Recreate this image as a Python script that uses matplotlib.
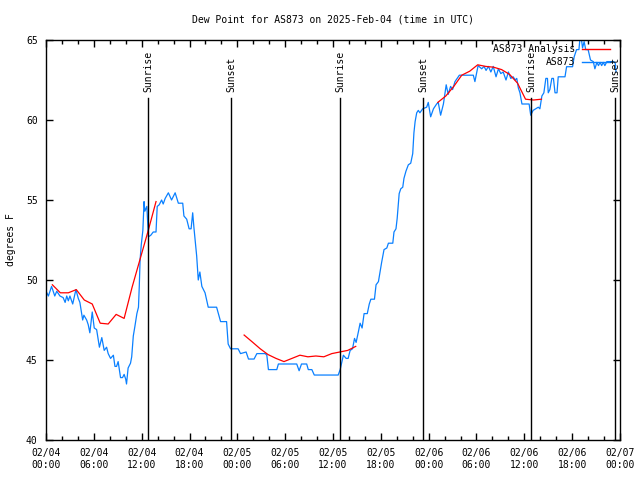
import numpy as np
import matplotlib
matplotlib.use('Agg')
import matplotlib.pyplot as plt
from matplotlib import transforms

# observed dew point (hours since 02/04 00:00 UTC, degrees F)
obs_hours = [0.1, 0.3, 0.7, 1.1, 1.35, 1.75, 2.15, 2.4, 2.6, 2.8, 3.0, 3.35, 3.75, 4.05,
             4.25, 4.6, 4.75, 5.1, 5.3, 5.5, 5.8, 6.05, 6.35, 6.7, 7.0, 7.3, 7.6, 7.8,
             8.1, 8.45, 8.65, 8.85, 9.05, 9.35, 9.6, 9.8, 10.0, 10.1, 10.3, 10.6, 10.75,
             10.95, 11.15, 11.4, 11.6, 11.7, 11.8, 11.95, 12.15, 12.3, 12.4, 12.65, 12.85,
             13.15, 13.45, 13.8, 13.95, 14.2, 14.5, 14.7, 14.95, 15.35, 15.75, 16.2, 16.6,
             17.15, 17.3, 17.65, 17.95, 18.2, 18.4, 18.55, 18.9, 19.1, 19.3, 19.55, 19.95,
             20.35, 21.4, 21.9, 22.65, 22.85, 23.15, 24.1, 24.4, 25.1, 25.4, 26.1, 26.45,
             27.5, 27.7, 27.9, 28.95, 29.15, 31.45, 31.75, 32.05, 32.7, 32.9, 33.35, 33.65,
             36.65, 36.9, 37.3, 37.65, 37.9, 38.15, 38.45, 38.7, 38.9, 39.2, 39.4, 39.65,
             39.9, 40.3, 40.55, 40.75, 41.2, 41.4, 41.7, 41.9, 42.1, 42.4, 42.75, 42.95,
             43.5, 43.65, 43.9, 44.05, 44.3, 44.5, 44.75, 44.9, 45.15, 45.45, 45.75, 46.0,
             46.15, 46.3, 46.5, 46.7, 46.9, 47.25, 47.75, 47.95, 48.25, 48.6, 49.0, 49.2,
             49.5, 49.85, 50.2, 50.45, 50.75, 51.0, 51.3, 51.85, 53.6, 53.8, 54.0, 54.2,
             54.65, 54.95, 55.2, 55.5, 55.8, 56.1, 56.45, 56.75, 57.05, 57.35, 57.7, 58.0,
             58.3, 58.6, 58.85, 59.05, 59.25, 59.45, 59.7, 60.6, 60.8, 61.1, 61.75, 61.95,
             62.2, 62.45, 62.7, 62.9, 63.0, 63.2, 63.45, 63.65, 63.85, 64.1, 64.25, 65.1,
             65.3, 66.05, 66.25, 66.55, 66.85, 67.05, 67.3, 67.5, 67.7, 68.0, 68.3, 68.65,
             68.85, 69.1, 69.3, 69.5, 69.7, 69.9, 70.1, 70.35, 71.2, 71.4, 71.5]
obs_vals = [49.2, 49.0, 49.6, 49.0, 49.3, 49.0, 48.9, 48.6, 49.0, 48.7, 49.0, 48.5, 49.4, 48.85,
            48.6, 47.5, 47.8, 47.5, 47.2, 46.7, 48.0, 47.0, 46.9, 45.8, 46.4, 45.6, 45.8, 45.4,
            45.1, 45.3, 44.6, 44.6, 44.9, 43.9, 43.9, 44.1, 43.8, 43.5, 44.5, 44.8, 45.2,
            46.5, 47.1, 47.9, 48.3, 49.6, 51.25, 52.2, 53.1, 54.9, 54.3, 54.6, 52.7,
            52.8, 53.0, 53.0, 54.6, 54.7, 55.0, 54.75, 55.1, 55.45, 55.0, 55.45, 54.8,
            54.8, 54.0, 53.8, 53.2, 53.2, 54.2, 53.3, 51.5, 50.0, 50.5, 49.6, 49.2,
            48.3, 48.3, 47.4, 47.4, 46.0, 45.7, 45.7, 45.4, 45.5, 45.06, 45.06, 45.4,
            45.4, 45.3, 44.4, 44.4, 44.75, 44.75, 44.33, 44.75, 44.75, 44.4, 44.4, 44.06,
            44.06, 44.4, 45.3, 45.1, 45.1, 45.6, 45.7, 46.35, 46.1, 46.8, 47.3, 47.0,
            47.9, 47.9, 48.5, 48.8, 48.8, 49.7, 49.9, 50.5, 51.1, 51.9, 52.0, 52.3,
            52.3, 53.0, 53.2, 53.85, 55.4, 55.7, 55.8, 56.35, 56.8, 57.2, 57.3, 57.9,
            59.2, 59.9, 60.45, 60.6, 60.45, 60.7, 60.8, 61.1, 60.2, 60.7, 61.0, 61.1,
            60.3, 61.0, 62.2, 61.6, 62.1, 61.9, 62.4, 62.8, 62.8, 62.4, 62.9, 63.4,
            63.2, 63.35, 63.1, 63.35, 63.0, 63.35, 62.7, 63.2, 62.9, 63.0, 62.5, 63.0,
            62.6, 62.7, 62.5, 62.6, 62.0, 61.7, 61.0, 61.0, 60.3, 60.6, 60.8, 60.7,
            61.5, 61.7, 62.6, 62.6, 61.7, 61.9, 62.6, 62.6, 61.7, 61.7, 62.7, 62.7,
            63.33, 63.33, 63.95, 64.4, 64.4, 65.5, 64.5, 64.9, 64.4, 64.4, 63.75, 63.65,
            63.2, 63.6, 63.4, 63.6, 63.4, 63.6, 63.4, 63.65, 63.65, 63.55, 63.0]

# hourly analysis, three pieces (gaps in between)
ana1_hours = [0.8, 1.8, 2.8, 3.8, 4.8, 5.8, 6.8, 7.8, 8.8, 9.8, 10.8, 11.8, 12.8, 13.8]
ana1_vals = [49.7, 49.2, 49.2, 49.4, 48.75, 48.5, 47.3, 47.25, 47.85, 47.6, 49.55, 51.3, 53.05, 54.9]
ana2_hours = [24.85, 25.85, 26.85, 27.85, 28.85, 29.85, 30.85, 31.85, 32.85, 33.85, 34.85,
              35.85, 36.85, 37.85, 38.85]
ana2_vals = [46.56, 46.14, 45.71, 45.34, 45.1, 44.9, 45.1, 45.3, 45.2, 45.25, 45.2, 45.4, 45.5, 45.6, 45.85]
ana3_hours = [49.15, 50.15, 51.15, 52.15, 53.15, 54.15, 55.15, 56.15, 57.15, 58.15, 59.15,
              60.15, 61.15, 62.15]
ana3_vals = [61.1, 61.5, 62.1, 62.8, 63.05, 63.45, 63.35, 63.3, 63.15, 62.85, 62.3, 61.3, 61.25, 61.3]

sun_hours = [12.83, 23.25, 36.88, 47.33, 60.84, 71.37]
sun_labels = ['Sunrise', 'Sunset', 'Sunrise', 'Sunset', 'Sunrise', 'Sunset']

tick_hours = list(range(0, 73, 6))
tick_labels = ['02/04\n00:00', '02/04\n06:00', '02/04\n12:00', '02/04\n18:00',
               '02/05\n00:00', '02/05\n06:00', '02/05\n12:00', '02/05\n18:00',
               '02/06\n00:00', '02/06\n06:00', '02/06\n12:00', '02/06\n18:00',
               '02/07\n00:00']

plt.rcParams['font.family'] = 'DejaVu Sans Mono'
plt.rcParams['font.size'] = 7

fig = plt.figure(figsize=(6.4, 4.8), dpi=100)
ax = fig.add_axes([46/640, 40/480, 574/640, 400/480])

blue = '#0a80ff'
red = '#ff0000'

ax.plot(obs_hours, obs_vals, color=blue, lw=0.9)

ana_h = ana1_hours + [np.nan] + ana2_hours + [np.nan] + ana3_hours
ana_v = ana1_vals + [np.nan] + ana2_vals + [np.nan] + ana3_vals
ax.plot(ana_h, ana_v, color=red, lw=0.9)

# sunrise / sunset markers
trans = transforms.blended_transform_factory(ax.transData, ax.transAxes)
for h, lab in zip(sun_hours, sun_labels):
    ax.plot([h, h], [0, 0.855], transform=trans, color='black', lw=1.0)
    ax.text(h, 0.87, lab, transform=trans, rotation=90, ha='center', va='bottom')

ax.set_xlim(0, 72)
ax.set_ylim(40, 65)
ax.set_xticks(tick_hours)
ax.set_xticklabels(tick_labels)
ax.set_xticks(range(0, 73, 2), minor=True)
ax.set_yticks(range(40, 66, 5))
ax.tick_params(which='major', direction='in', top=True, right=True, length=5, width=1, pad=6)
ax.tick_params(which='minor', direction='in', top=True, right=True, length=3, width=1)
for s in ax.spines.values():
    s.set_linewidth(1)
ax.set_ylabel('degrees F', labelpad=7)

# legend drawn by hand, gnuplot style
ax.text(0.9216, 0.9775, 'AS873 Analysis', transform=ax.transAxes, ha='right', va='center')
ax.plot([0.934, 0.9826], [0.9775, 0.9775], transform=ax.transAxes, color=red, lw=1.0, clip_on=False)
ax.text(0.9216, 0.945, 'AS873', transform=ax.transAxes, ha='right', va='center')
ax.plot([0.934, 0.9826], [0.945, 0.945], transform=ax.transAxes, color=blue, lw=1.0, clip_on=False)

fig.text(333/640, 1 - 19/480, 'Dew Point for AS873 on 2025-Feb-04 (time in UTC)',
         ha='center', va='center')

fig.savefig('out.png', dpi=100)
